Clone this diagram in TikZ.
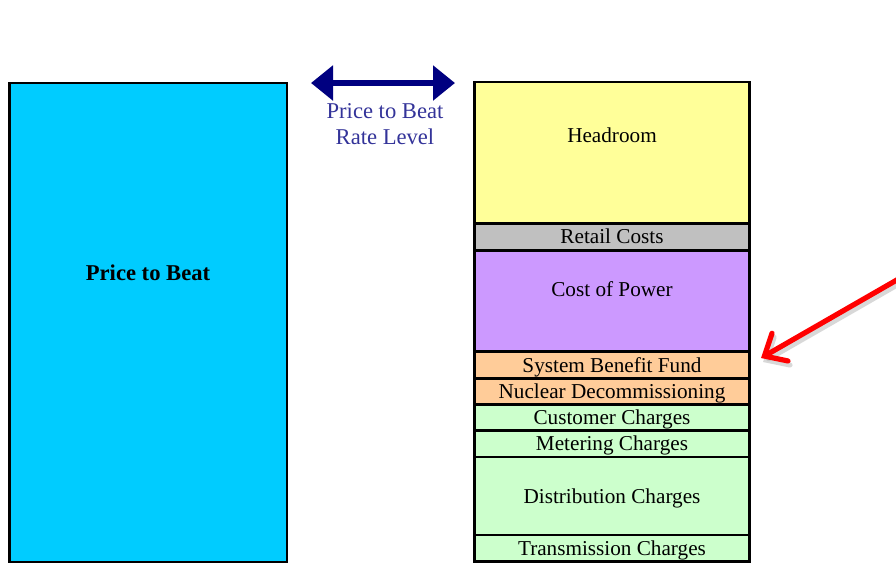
\documentclass[tikz,border=0pt]{standalone}
\usepackage{fontspec}
\setmainfont{Liberation Serif}
\usetikzlibrary{arrows.meta}
\definecolor{ptbcyan}{RGB}{0,204,255}
\definecolor{headyel}{RGB}{255,255,153}
\definecolor{retgray}{RGB}{192,192,192}
\definecolor{powlil}{RGB}{204,153,255}
\definecolor{fundorg}{RGB}{255,204,153}
\definecolor{wiregrn}{RGB}{204,255,204}
\definecolor{rateblue}{RGB}{51,51,153}
\definecolor{rateNavy}{RGB}{0,0,128}
\tikzset{
  seg/.style={draw=black, line width=1.4pt},
  segtxt/.style={anchor=base, inner sep=0pt, font=\fontsize{10.6}{12.7}\selectfont}
}
\begin{document}
\begin{tikzpicture}[x=0.5pt,y=-0.5pt]
\useasboundingbox (0,0) rectangle (896,563);
\draw[seg, line width=1.2pt, fill=ptbcyan] (9.5,83) rectangle (287,562);
\node[segtxt, font=\fontsize{11.3}{13.5}\selectfont\bfseries] (ptb) at (148,280) {Price to Beat};
\foreach \ya/\yb/\col in {82/223.5/headyel, 223.5/250.5/retgray, 250.5/351.5/powlil,
  351.5/378.5/fundorg, 378.5/404.5/fundorg, 404.5/430.5/wiregrn, 430.5/457/wiregrn,
  457/535/wiregrn, 535/561.5/wiregrn} % edit here for the stack
\draw[seg, fill=\col] (474.5,\ya) rectangle (749.5,\yb);
\foreach \nm/\yt/\txt in {head/142.5/Headroom, retail/243.3/Retail Costs, power/296.7/Cost of Power,
  sbf/372.7/System Benefit Fund, nuc/398.3/Nuclear Decommissioning, cust/424.3/Customer Charges,
  meter/450/Metering Charges, dist/503.3/Distribution Charges, trans/555/Transmission Charges} % edit here for the labels
\node[segtxt] (\nm) at (612,\yt) {\txt};
% rate level arrow
\coordinate (rateL) at (311,83);
\coordinate (rateR) at (455,83);
\draw[rateNavy, line width=3pt, {Triangle[length=11pt,width=17pt]}-{Triangle[length=11pt,width=17pt]}] (rateL) -- (rateR);
\node[align=center, text=rateblue, inner sep=0pt, font=\fontsize{11.3}{12.85}\selectfont] (rate) at (385,124) {Price to Beat\\Rate Level};
% red pointer
\coordinate (redtail) at (902,277);
\coordinate (redtip) at (761,358);
\draw[black!30, opacity=0.5, line width=2.6pt, line cap=round, -{Straight Barb[length=9pt,width=16pt,line cap=round]}] ([shift={(2,4)}]redtail) -- ([shift={(2,4)}]redtip);
\draw[red, line width=2.6pt, line cap=round, -{Straight Barb[length=9pt,width=16pt,line cap=round]}] (redtail) -- (redtip);
\end{tikzpicture}
\end{document}
